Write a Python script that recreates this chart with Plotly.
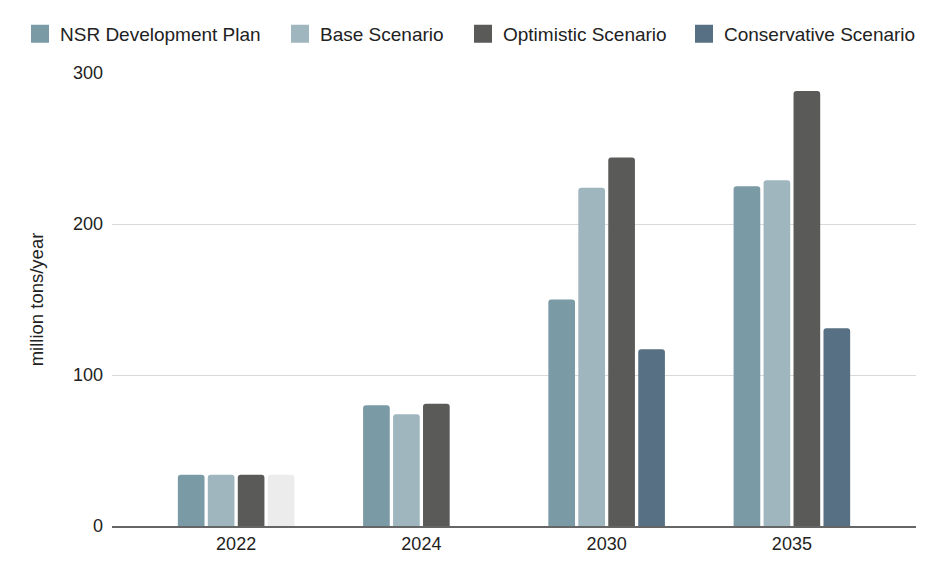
import plotly.graph_objects as go

years = ["2022", "2024", "2030", "2035"]
nsr_plan = [34, 80, 150, 225]
base_scenario = [34, 74, 224, 229]
optimistic_scenario = [34, 81, 244, 288]
conservative_scenario = [34, None, 117, 131]

series_names = ["NSR Development Plan", "Base Scenario", "Optimistic Scenario", "Conservative Scenario"]
series_colors = ["#7a9aa6", "#9fb6bf", "#5a5a59", "#577083"]
highlight_color = "#ececec"   # the 2022 conservative bar is drawn light grey

font_family = "Liberation Sans, Arial, Helvetica, sans-serif"
legend_ids = ["legend", "legend2", "legend3", "legend4"]
legend_x_px = [20, 280, 463, 684]

fig = go.Figure()
series_values = [nsr_plan, base_scenario, optimistic_scenario, conservative_scenario]
for i, (name, vals, col) in enumerate(zip(series_names, series_values, series_colors)):
    if name == "Conservative Scenario":
        fig.add_trace(go.Bar(name=name, x=years[:1], y=vals[:1], offsetgroup=str(i),
                             marker=dict(color=highlight_color, line=dict(width=0)),
                             showlegend=False))
        fig.add_trace(go.Bar(name=name, x=years[1:], y=vals[1:], offsetgroup=str(i),
                             marker=dict(color=col, line=dict(width=0)), showlegend=False))
    else:
        fig.add_trace(go.Bar(name=name, x=years, y=vals, offsetgroup=str(i),
                             marker=dict(color=col, line=dict(width=0)), showlegend=False))

# legend entries (one legend per series so the row never wraps)
for i, (name, col) in enumerate(zip(series_names, series_colors)):
    fig.add_trace(go.Scatter(name=name, x=[None], y=[None], mode="markers",
                             marker=dict(symbol="square", size=16, color=col,
                                         line=dict(color=col, width=2)),
                             legend=legend_ids[i], showlegend=True, hoverinfo="skip"))

legend_common = dict(orientation="h", xref="container", yref="container",
                     y=1 - 34 / 577, xanchor="left", yanchor="middle",
                     font=dict(size=19, color="#222222"), itemwidth=30,
                     bgcolor="rgba(0,0,0,0)", borderwidth=0)
layout_legends = {}
for lid, xp in zip(legend_ids, legend_x_px):
    layout_legends[lid] = dict(legend_common, x=xp / 938)

fig.update_layout(
    width=938, height=577,
    margin=dict(l=112, r=22, t=73, b=51, autoexpand=False),
    paper_bgcolor="white", plot_bgcolor="white",
    font=dict(family=font_family, size=18, color="#222222"),
    barmode="group", bargap=0.353, bargroupgap=0.11,
    barcornerradius=3,
    xaxis=dict(type="category", categoryorder="array", categoryarray=years,
               range=[-0.67, 3.67], showgrid=False,
               showline=True, linecolor="#666666", linewidth=2,
               ticks="", tickfont=dict(size=18)),
    yaxis=dict(range=[0, 300], dtick=100, showgrid=True, gridcolor="#d9d9d9",
               gridwidth=1.2, zeroline=False, showline=False, ticks="",
               ticklabelstandoff=8, tickfont=dict(size=18),
               title=dict(text="million tons/year", font=dict(size=18.5), standoff=24)),
    **layout_legends,
)
fig.write_html("out.html", config={"displayModeBar": False},
               post_script="document.body.style.margin='0';")
